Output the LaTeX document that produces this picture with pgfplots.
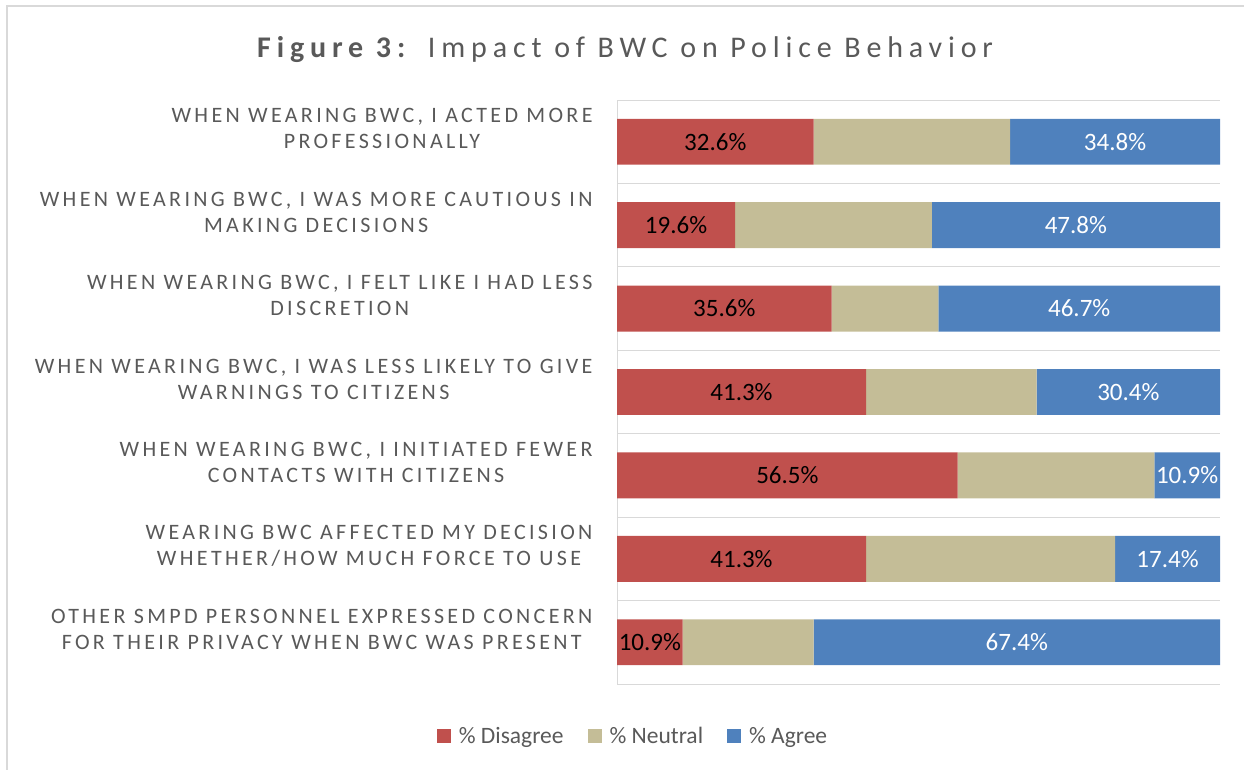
\documentclass[border=0pt]{standalone}
\usepackage{pgfplots}
\pgfplotsset{compat=1.18}
\usepackage{pgfplotstable}
\usepackage{fontspec}
\setmainfont{Carlito}
\newfontfamily\catfont[LetterSpace=15.2]{Carlito}
\newfontfamily\titlefont[LetterSpace=19.5]{Carlito}
\definecolor{cred}{HTML}{C0504D}
\definecolor{ctan}{HTML}{C4BD97}
\definecolor{cblue}{HTML}{4F81BD}
\definecolor{txt}{HTML}{595959}
\definecolor{gridc}{HTML}{D9D9D9}

\pgfplotstableread{
i d n a
0 32.6 32.6 34.8
1 19.6 32.6 47.8
2 35.6 17.7 46.7
3 41.3 28.3 30.4
4 56.5 32.6 10.9
5 41.3 41.3 17.4
6 10.9 21.7 67.4
}\data

\begin{document}
\begin{tikzpicture}[x=1pt,y=1pt]
\path[use as bounding box] (0pt,0pt) rectangle (1244pt,770pt);
\draw[gridc, line width=2pt] (7pt,-5pt) -- (7pt,764pt) -- (1250pt,764pt);
\node[anchor=base west, inner sep=0, text=txt, font=\titlefont\fontsize{30}{34}\selectfont] at (257pt,712pt) {\textbf{Figure 3:} Impact of BWC on Police Behavior};
\begin{axis}[
  at={(617pt,86pt)}, anchor=south west, scale only axis,
  width=603pt, height=584pt,
  xbar stacked, bar width=0.55,
  xmin=0, xmax=100, ymin=-0.5, ymax=6.5, y dir=reverse,
  axis x line=none, axis y line*=left,
  y axis line style={gridc, line width=1pt},
  ytick={0,...,6},
  yticklabels={
    {WHEN WEARING BWC, I ACTED MORE\\PROFESSIONALLY},
    {WHEN WEARING BWC, I WAS MORE CAUTIOUS IN\\MAKING DECISIONS},
    {WHEN WEARING BWC, I FELT LIKE I HAD LESS\\DISCRETION},
    {WHEN WEARING BWC, I WAS LESS LIKELY TO GIVE\\WARNINGS TO CITIZENS},
    {WHEN WEARING BWC, I INITIATED FEWER\\CONTACTS WITH CITIZENS},
    {WEARING BWC AFFECTED MY DECISION\\WHETHER/HOW MUCH FORCE TO USE},
    {OTHER SMPD PERSONNEL EXPRESSED CONCERN\\FOR THEIR PRIVACY WHEN BWC WAS PRESENT}},
  major tick length=0, minor tick length=0,
  minor ytick={-0.5,0.5,...,6.5}, yminorgrids,
  minor grid style={gridc, line width=1pt},
  yticklabel style={align=center, text=txt, font=\catfont\fontsize{22}{26}\selectfont, yshift=13pt, xshift=-21pt},
  clip=false,
  /pgf/number format/assume math mode=true,
  legend style={at={(0.0265,-0.089)}, anchor=center, draw=none, fill=none,
    legend columns=-1, font=\fontsize{23.5}{28}\selectfont, text=txt,
    /tikz/every even column/.append style={column sep=22pt}, inner sep=0pt},
  legend image code/.code={\fill[#1] (0pt,-7pt) rectangle (14pt,7pt); \path (20pt,0pt);},
  point meta=explicit,
]
\addplot[fill=cred, draw=none,
  nodes near coords={\pgfmathprintnumber[fixed,fixed zerofill,precision=1,assume math mode=true]{\pgfplotspointmeta}\%},
  every node near coord/.append style={anchor=center, text=black, font=\fontsize{25}{30}\selectfont}]
  table[x=d, y=i, meta=d]{\data};
\addlegendentry{\% Disagree}
\addplot[fill=ctan, draw=none] table[x=n, y=i, meta=n]{\data};
\addlegendentry{\% Neutral}
\addplot[fill=cblue, draw=none,
  nodes near coords={\pgfmathprintnumber[fixed,fixed zerofill,precision=1,assume math mode=true]{\pgfplotspointmeta}\%},
  every node near coord/.append style={anchor=center, text=white, font=\fontsize{25}{30}\selectfont}]
  table[x=a, y=i, meta=a]{\data};
\addlegendentry{\% Agree}
\end{axis}
\end{tikzpicture}
\end{document}
